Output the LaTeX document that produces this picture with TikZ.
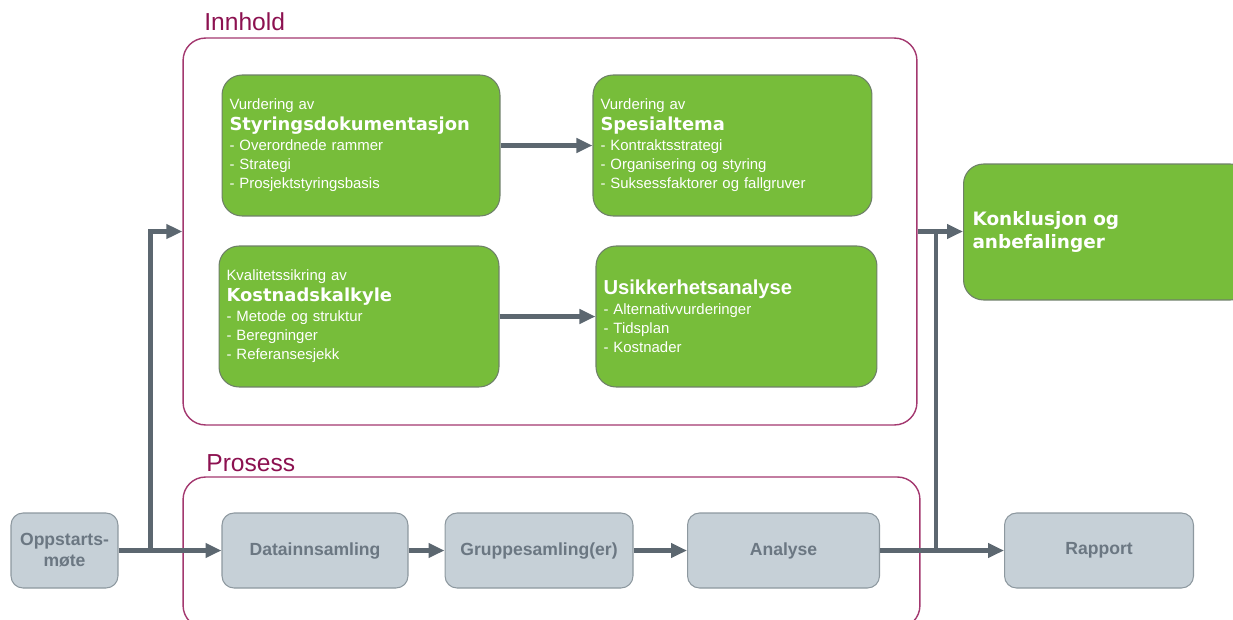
\documentclass[tikz,border=0pt]{standalone}
\usepackage{fontspec}
\setmainfont{Liberation Sans}
\newfontfamily\headfont{DejaVu Sans}
\usetikzlibrary{arrows.meta,positioning}

\definecolor{boxgreen}{HTML}{77BD3A}
\definecolor{greenedge}{HTML}{6E8068}
\definecolor{taskgray}{HTML}{C6D0D7}
\definecolor{taskedge}{HTML}{8D989F}
\definecolor{tasktext}{HTML}{6B7782}
\definecolor{frameedge}{HTML}{A3386F}
\definecolor{titlered}{HTML}{8C1150}
\definecolor{arrowgray}{HTML}{5C6770}

\newcommand\boxhead[1]{{\headfont\bfseries\fontsize{10.2}{12}\selectfont #1}}

\begin{document}
\begin{tikzpicture}[x=0.02cm,y=-0.02cm,>={Triangle[length=3.2mm,width=2.8mm]},
    content/.style={rectangle,rounded corners=0.4cm,draw=greenedge,line width=0.6pt,
      fill=boxgreen,text=white,align=left,inner xsep=0.15cm,minimum height=2.82cm,
      font=\fontsize{8.5}{11}\selectfont},
    task/.style={rectangle,rounded corners=0.24cm,draw=taskedge,line width=0.6pt,
      fill=taskgray,text=tasktext,align=center,minimum height=1.5cm,
      font=\bfseries\fontsize{10}{12}\selectfont},
    frame/.style={rectangle,rounded corners=0.45cm,draw=frameedge,line width=0.8pt,inner sep=0pt},
    title/.style={text=titlered,font=\fontsize{14}{16}\selectfont,anchor=west,inner sep=0pt},
    flow/.style={->,draw=arrowgray,line width=2.7pt}]
  \useasboundingbox (0,0) rectangle (1233,619);

  % frames
  \node[frame,minimum width=14.68cm,minimum height=7.74cm] (innhold) at (550,231.5) {};
  \node[frame,minimum width=14.74cm,minimum height=3.02cm] (prosess) at (551.5,552.5) {};
  \node[title] (innholdtitle) at (204,22) {Innhold};
  \node[title] (prosesstitle) at (206,463) {Prosess};

  % content boxes
  \node[content,text width=5.26cm] (styring) at (361,145.5) {Vurdering av\\[1pt]
    \boxhead{Styringsdokumentasjon}\\
    - Overordnede rammer\\
    - Strategi\\
    - Prosjektstyringsbasis};
  \node[content,text width=5.28cm] (spesial) [right=1.84cm of styring] {Vurdering av\\[1pt]
    \boxhead{Spesialtema}\\
    - Kontraktsstrategi\\
    - Organisering og styring\\
    - Suksessfaktorer og fallgruver};
  \node[content,text width=5.30cm] (kalkyle) at (359,316.5) {Kvalitetssikring av\\[1pt]
    \boxhead{Kostnadskalkyle}\\
    - Metode og struktur\\
    - Beregninger\\
    - Referansesjekk};
  \node[content,text width=5.32cm] (usikker) [right=1.92cm of kalkyle]
    {{\bfseries\fontsize{11.5}{13}\selectfont Usikkerhetsanalyse}\\
    - Alternativvurderinger\\
    - Tidsplan\\
    - Kostnader};
  \node[content,text width=5.38cm,minimum height=2.72cm,inner xsep=0.18cm,
    font=\headfont\bfseries\fontsize{10.5}{13}\selectfont] (konklusjon) at (1107,232)
    {Konklusjon og\\anbefalinger};

  % process steps
  \node[task,minimum width=2.14cm] (oppstart) at (64.5,550.5) {Oppstarts-\\møte};
  \node[task,minimum width=3.72cm] (data) [right=2.06cm of oppstart] {Datainnsamling};
  \node[task,minimum width=3.76cm] (gruppe) [right=0.72cm of data] {Gruppesamling(er)};
  \node[task,minimum width=3.84cm] (analyse) [right=1.07cm of gruppe] {Analyse};
  \node[task,minimum width=3.78cm] (rapport) [right=2.48cm of analyse] {Rapport};

  % connectors
  \coordinate (split1) at ([xshift=0.64cm]oppstart.east);
  \coordinate (split2) at ([xshift=1.12cm]analyse.east);
  \draw[flow] (styring) -- (spesial);
  \draw[flow] (kalkyle) -- (usikker);
  \draw[flow] (oppstart) -- (data);
  \draw[flow] (data) -- (gruppe);
  \draw[flow] (gruppe) -- (analyse);
  \draw[flow] (analyse) -- (rapport);
  \draw[flow] (split1) |- (innhold.west);
  \draw[flow,-] (split2) -- (split2 |- innhold.east);
  \draw[flow] (innhold.east) -- (innhold.east -| konklusjon.west);
\end{tikzpicture}
\end{document}
